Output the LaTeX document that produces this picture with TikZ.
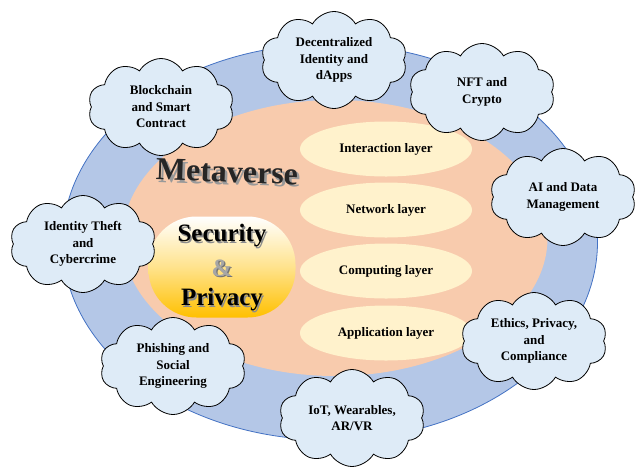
\documentclass[tikz,border=0pt]{standalone}
\usepackage{fontspec}
\setmainfont{Liberation Serif}
\usetikzlibrary{shapes.symbols,shapes.geometric}
\definecolor{outerfill}{HTML}{B4C7E7}
\definecolor{outerdraw}{HTML}{4472C4}
\definecolor{innerfill}{HTML}{F8CBAD}
\definecolor{layerfill}{HTML}{FFF2CC}
\definecolor{cloudfill}{HTML}{DEEBF7}
\definecolor{gold}{HTML}{FFC000}
\begin{document}
\begin{tikzpicture}[x=1pt,y=-1pt,
  layerbox/.style={ellipse, fill=layerfill, minimum width=172pt, minimum height=55pt, inner sep=0pt,
    font=\fontsize{13}{15}\selectfont\bfseries},
  cloudbox/.style={cloud, cloud puffs=10, cloud puff arc=120, cloud ignores aspect, draw=black, line width=0.8pt,
    fill=cloudfill, minimum width=146pt, minimum height=97pt, inner sep=0pt, align=center,
    font=\fontsize{13}{16.5}\selectfont\bfseries},
  bigtext/.style={font=\fontsize{25}{25}\selectfont\bfseries, inner sep=0pt},
  shadowtext/.style={text=black!45}
]
\useasboundingbox (0,0) rectangle (639,467);
\fill[white] (0,0) rectangle (639,467);
\node[ellipse, fill=outerfill, draw=outerdraw, line width=0.8pt, minimum width=535pt, minimum height=396pt, inner sep=0pt] (outer) at (330,242) {};
\node[ellipse, fill=innerfill, minimum width=425pt, minimum height=276pt, inner sep=0pt] (inner) at (335,238) {};
\node[layerbox] (l1) at (386,149) {Interaction layer};
\node[layerbox] (l2) at (386,210) {Network layer};
\node[layerbox] (l3) at (386,271) {Computing layer};
\node[layerbox] (l4) at (386,333) {Application layer};
\node[rectangle, rounded corners=48pt, minimum width=147pt, minimum height=101pt, inner sep=0pt,
  top color=white, bottom color=gold, middle color=gold!45!white] (sec) at (222,267) {};
\node[bigtext, shadowtext] (s1s) at (223.5,237.5) {Security};
\node[bigtext] (s1) at (222,236) {Security};
\node[bigtext, text=black!55] (s2s) at (223.2,269.2) {\&};
\node[bigtext, text=black!35] (s2) at (222,268) {\&};
\node[bigtext, shadowtext] (s3s) at (223.5,301.5) {Privacy};
\node[bigtext] (s3) at (222,300) {Privacy};
\node[font=\fontsize{32}{32}\selectfont\bfseries, text=black!40, rotate=-2, inner sep=0pt] (mets) at (229.5,174.5) {Metaverse};
\node[font=\fontsize{32}{32}\selectfont\bfseries, text=black!85, rotate=-2, inner sep=0pt] (met) at (227,172) {Metaverse};
\node[cloudbox] (c1) at (334,60) {Decentralized\\Identity and\\dApps};
\node[cloudbox] (c2) at (482,92) {NFT and\\Crypto};
\node[cloudbox] (c3) at (161,107) {Blockchain\\and Smart\\Contract};
\node[cloudbox] (c4) at (563,197) {AI and Data\\Management};
\node[cloudbox] (c5) at (83,244) {Identity Theft\\and\\Cybercrime};
\node[cloudbox] (c6) at (534,341) {Ethics, Privacy,\\and\\Compliance};
\node[cloudbox] (c7) at (173,366) {Phishing and\\Social\\Engineering};
\node[cloudbox] (c8) at (352,418) {IoT, Wearables,\\AR/VR};
\end{tikzpicture}
\end{document}
